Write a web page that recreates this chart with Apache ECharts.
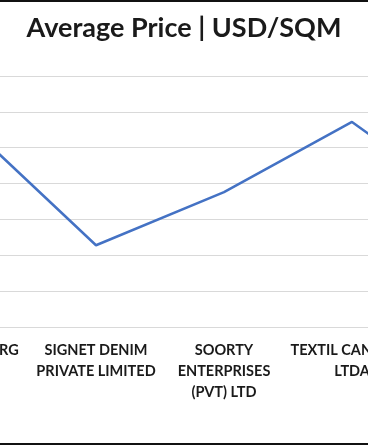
<!DOCTYPE html>
<html>
<head>
<meta charset="utf-8">
<script src="https://cdn.jsdelivr.net/npm/echarts@6/dist/echarts.min.js"></script>
<style>
  html, body { margin: 0; padding: 0; background: #fff; overflow: hidden; }
  #frame {
    position: relative; width: 368px; height: 441px; overflow: hidden;
    border-top: 2px solid #111; border-bottom: 2px solid #111;
  }
  #chart { position: absolute; left: -160px; top: 0; width: 800px; height: 441px; }
</style>
</head>
<body>
<div id="frame"><div id="chart"></div></div>
<script>
// 数据
const companies = [
    'LUXEMBOURG\nSARL',
    'SIGNET DENIM\nPRIVATE LIMITED',
    'SOORTY\nENTERPRISES\n(PVT) LTD',
    'TEXTIL CANATIBA\nLTDA',
    'ORTA ANADOLU'
];
const avgPrice = [2.82, 1.14, 1.88, 2.86, 1.58];

// 图表比可视区域宽，左右两端被裁掉
const chart = echarts.init(document.getElementById('chart'), null, { renderer: 'canvas' });

chart.setOption({
    backgroundColor: '#fff',
    animation: false,
    title: {
        text: 'Average Price | USD/SQM',
        left: 339,
        textAlign: 'center',
        top: 8,
        textStyle: { fontFamily: 'Lato', fontSize: 27, fontWeight: 'bold', color: '#1a1a1a' }
    },
    grid: { left: 64, top: 74, width: 640, height: 251 },
    xAxis: {
        type: 'category',
        data: companies,
        boundaryGap: true,
        axisLine: { lineStyle: { color: '#d9d9d9', width: 1 } },
        axisTick: { show: false },
        axisLabel: {
            interval: 0,
            margin: 13,
            fontFamily: 'Lato',
            fontWeight: 'bold',
            fontSize: 14.5,
            lineHeight: 21,
            color: '#1a1a1a'
        }
    },
    yAxis: {
        type: 'value',
        min: 0,
        max: 3.5,
        interval: 0.5,
        axisLabel: { show: false },
        axisLine: { show: false },
        axisTick: { show: false },
        splitLine: { lineStyle: { color: '#d9d9d9', width: 1 } }
    },
    series: [{
        type: 'line',
        data: avgPrice,
        symbol: 'none',
        lineStyle: { color: '#4472c4', width: 2.5 }
    }]
});
</script>
</body>
</html>
